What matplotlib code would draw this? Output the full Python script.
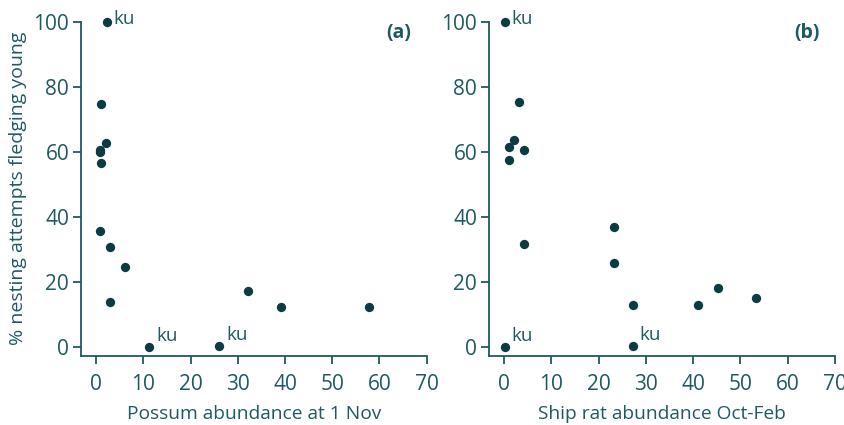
import matplotlib
matplotlib.use("Agg")
import matplotlib.pyplot as plt

# Panel (a): possum abundance
possum_x = [2.2, 1.1, 2.0, 0.8, 0.8, 1.0, 0.9, 3.0, 6.1, 2.9, 11.3, 26.1, 32.1, 39.1, 57.8]
possum_y = [100, 74.8, 62.7, 60.6, 59.8, 56.7, 35.6, 30.6, 24.7, 13.8, 0.0, 0.4, 17.1, 12.3, 12.4]
possum_lab = ["ku", "", "", "", "", "", "", "", "", "", "ku", "ku", "", "", ""]

# Panel (b): ship rat abundance
rat_x = [0.15, 3.2, 2.05, 1.07, 4.2, 1.1, 4.2, 23.3, 23.3, 27.2, 41.1, 45.3, 53.3, 0.1, 27.2]
rat_y = [100, 75.3, 63.7, 61.5, 60.6, 57.5, 31.7, 36.9, 25.8, 12.9, 13.0, 18.2, 15.2, 0.1, 0.4]
rat_lab = ["ku", "", "", "", "", "", "", "", "", "", "", "", "", "ku", "ku"]

xticks = [0, 10, 20, 30, 40, 50, 60, 70]
yticks = [0, 20, 40, 60, 80, 100]
xlabels = ["Possum abundance at 1 Nov", "Ship rat abundance Oct-Feb"]
ylabel = "% nesting attempts fledging young"
panel_tags = ["(a)", "(b)"]

PT = "#0c3c42"
TXT = "#1e5a61"
plt.rcParams["font.family"] = ["Open Sans", "DejaVu Sans"]

fig = plt.figure(figsize=(8.45, 4.25), dpi=100)
ax_a = fig.add_axes([0.0959, 0.163, 0.409, 0.786])
ax_b = fig.add_axes([0.5787, 0.163, 0.4095, 0.786])

datasets = [(possum_x, possum_y, possum_lab), (rat_x, rat_y, rat_lab)]
for i, (ax, (xs, ys, labs)) in enumerate(zip([ax_a, ax_b], datasets)):
    ax.scatter(xs, ys, s=45, color=PT, clip_on=False, zorder=3, linewidths=0)
    for x, y, lab in zip(xs, ys, labs):
        if lab:
            dy = 2 if y > 50 else 8
            ax.annotate(lab, (x, y), xytext=(5, dy), textcoords="offset points",
                        fontsize=13.5, color=TXT, va="center", ha="left")
    ax.set_xlim(-3.2, 70)
    ax.set_ylim(-2.7, 100)
    ax.set_xticks(xticks)
    ax.set_yticks(yticks)
    for s in ["top", "right"]:
        ax.spines[s].set_visible(False)
    for s in ["left", "bottom"]:
        ax.spines[s].set_color(TXT)
        ax.spines[s].set_linewidth(1.3)
    ax.spines["left"].set_bounds(-2.7, 100)
    ax.tick_params(axis="both", colors=TXT, labelcolor=TXT, labelsize=15,
                   length=5.5, width=1.3, direction="out")
    ax.tick_params(axis="x", pad=8)
    ax.tick_params(axis="y", pad=3)
    ax.set_xlabel(xlabels[i], fontsize=13.8, color=TXT, labelpad=7)
    ax.text(0.955, 0.965, panel_tags[i], transform=ax.transAxes, fontsize=14,
            fontweight="bold", color=TXT, ha="right", va="center")
    ax.patch.set_visible(False)

ax_a.set_ylabel(ylabel, fontsize=14, color=TXT, labelpad=5)

fig.savefig("out.png", dpi=100)
